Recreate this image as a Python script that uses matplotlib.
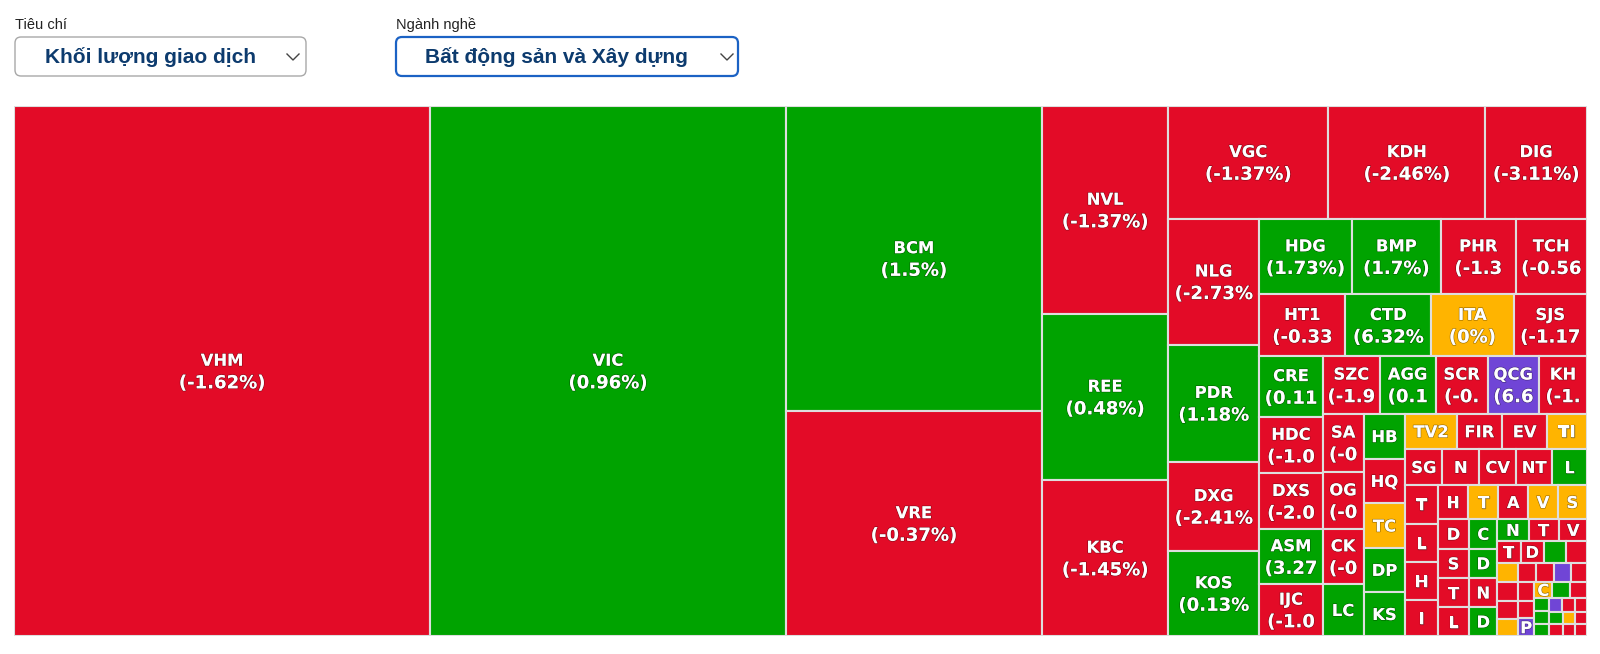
import matplotlib
matplotlib.use("Agg")
import matplotlib.pyplot as plt
from matplotlib.patches import Rectangle, FancyBboxPatch
import matplotlib.patheffects as pe

# ------------------ DATA ------------------ #
tickers = [
    "VHM", "VIC", "BCM", "VRE", "NVL", "REE", "KBC", "VGC", "KDH", "DIG",
    "NLG", "PDR", "DXG", "KOS", "HDG", "BMP", "PHR", "TCH", "HT1", "CTD",
    "ITA", "SJS", "CRE", "HDC", "DXS", "ASM", "IJC", "SZC", "AGG", "SCR",
    "QCG", "KH", "SA", "OG", "CK", "LC", "HB", "HQ", "TC", "DP",
    "KS", "TV2", "FIR", "EV", "TI", "SG", "N", "CV", "NT", "L",
    "T", "L", "H", "I", "H", "T", "A", "V", "S", "D",
    "S", "T", "L", "C", "D", "N", "D", "N", "T", "V",
    "T", "D", "", "", "", "", "", "", "",
    "", "", "", "", "", "P", "C", "", "", "", "",
    "", "", "", "", "", "", "", "", "", "",
]

# trading volume (relative units)
volumes = [
    220268, 188150, 78080, 57600, 26208, 20916, 19656, 18032, 17696, 11450,
    11440, 10647, 8099, 7735, 6975, 6750, 5625, 5400, 5300, 5280,
    5060, 4520, 3843, 3591, 3528, 3465, 3300, 3290, 3200, 3000,
    2950, 2760, 2380, 2330, 2230, 2120, 1880, 1870, 1860, 1850,
    1840, 1800, 1600, 1580, 1400, 1340, 1335, 1330, 1320, 1250,
    1240, 1235, 1230, 1160, 1030, 1020, 1010, 1000, 990, 935,
    930, 925, 900, 830, 820, 815, 810, 680, 670, 600,
    520, 510, 500, 460, 400, 380, 370, 360, 345,
    340, 320, 310, 300, 290, 285, 280, 270, 265, 200,
    195, 190, 180, 175, 170, 165, 160, 155, 150, 145, 140,
]

# % change label as it shows in the cell (cut off where the cell is too narrow)
labels = [
    "(-1.62%)", "(0.96%)", "(1.5%)", "(-0.37%)", "(-1.37%)", "(0.48%)", "(-1.45%)", "(-1.37%)", "(-2.46%)", "(-3.11%)",
    "(-2.73%", "(1.18%", "(-2.41%", "(0.13%", "(1.73%)", "(1.7%)", "(-1.3", "(-0.56", "(-0.33", "(6.32%",
    "(0%)", "(-1.17", "(0.11", "(-1.0", "(-2.0", "(3.27", "(-1.0", "(-1.9", "(0.1", "(-0.",
    "(6.6", "(-1.", "(-0", "(-0", "(-0",
]

# d = down, u = up, r = reference (0%), c = ceiling
status = (
    "duuddudddd" "duduuudddu" "rdudduddud" "cdddduudru"
    "urddrddddu" "dddddrdrrd" "ddduuduudd" "ddudrddrd"
    "dcdddcrud" "uuucddudrddd"
)

colors = {"d": "#e30b27", "u": "#00a300", "r": "#ffb400", "c": "#7045d6"}

W, H = 1573.0, 530.0
RATIO = 0.92


def squarify(values, x0, y0, x1, y1, ratio):
    # squarified treemap, strips laid along the shorter side
    n = len(values)
    rects = [None] * n
    value = float(sum(values))
    i0 = 0
    while i0 < n:
        dx, dy = x1 - x0, y1 - y0
        i1 = i0
        s = values[i1]
        i1 += 1
        vmin = vmax = s
        alpha = max(dy / dx, dx / dy) / (value * ratio)
        beta = s * s * alpha
        best = max(vmax / beta, beta / vmin)
        while i1 < n:
            v = values[i1]
            s2 = s + v
            mn, mx = min(vmin, v), max(vmax, v)
            beta = s2 * s2 * alpha
            nr = max(mx / beta, beta / mn)
            if nr > best:
                break
            s, vmin, vmax, best = s2, mn, mx, nr
            i1 += 1
        row = range(i0, i1)
        if dx < dy:
            h = dy * s / value
            xx = x0
            for k in row:
                w = dx * values[k] / s
                rects[k] = (xx, y0, w, h)
                xx += w
            y0 += h
        else:
            w = dx * s / value
            yy = y0
            for k in row:
                hh = dy * values[k] / s
                rects[k] = (x0, yy, w, hh)
                yy += hh
            x0 += w
        value -= s
        i0 = i1
    return rects


rects = squarify(volumes, 0.0, 0.0, W, H, RATIO)

# ------------------ FIGURE ------------------ #
fig = plt.figure(figsize=(16, 6.54), dpi=100)
fig.patch.set_facecolor("white")

# header with the two dropdowns
hdr = fig.add_axes([0, 0, 1, 1])
hdr.set_xlim(0, 1600)
hdr.set_ylim(654, 0)
hdr.axis("off")

ui_font = ["Liberation Sans", "DejaVu Sans"]
navy = "#0d3b6e"

hdr.text(15, 25, "Tiêu chí", fontsize=10.5, color="#222222", family=ui_font, va="center")
hdr.text(396, 25, "Ngành nghề", fontsize=10.5, color="#222222", family=ui_font, va="center")

hdr.add_patch(FancyBboxPatch((15, 37), 291, 39, boxstyle="round,pad=0,rounding_size=6",
                             fc="white", ec="#a8a8a8", lw=1.0))
hdr.add_patch(FancyBboxPatch((396, 37), 342, 39, boxstyle="round,pad=0,rounding_size=6",
                             fc="white", ec="#1b62c4", lw=1.6))
hdr.text(45, 57, "Khối lượng giao dịch", fontsize=15, fontweight="bold", color=navy,
         family=ui_font, va="center")
hdr.text(425, 57, "Bất động sản và Xây dựng", fontsize=15, fontweight="bold", color=navy,
         family=ui_font, va="center")
for cx in (293, 727):
    hdr.plot([cx - 6, cx, cx + 6], [54, 60, 54], color="#444444", lw=1.0)

# ------------------ TREEMAP ------------------ #
ax = fig.add_axes([14 / 1600, (654 - 636) / 654, W / 1600, H / 654])
ax.set_xlim(0, W)
ax.set_ylim(H, 0)
ax.axis("off")

outline = [pe.withStroke(linewidth=1.0, foreground=(0, 0, 0, 0.35))]

for k, (x, y, w, h) in enumerate(rects):
    cell = Rectangle((x, y), w, h, facecolor=colors[status[k]], edgecolor="#dedede", linewidth=1.5)
    ax.add_patch(cell)
    lab = labels[k] if k < len(labels) else ""
    cx, cy = x + w / 2, y + h / 2
    if lab:
        lines = [(tickers[k], cy - 11.3, 11.8), (lab, cy + 11.3, 13.0)]
    else:
        lines = [(tickers[k], cy, 11.8)]
    for txt, yy, fs in lines:
        if not txt:
            continue
        t = ax.text(cx, yy + 6.0, txt, ha="center", va="baseline", fontsize=fs,
                    fontweight="bold", color="white", family="DejaVu Sans",
                    path_effects=outline)
        t.set_clip_path(cell)

fig.savefig("out.png", dpi=100, facecolor="white")
